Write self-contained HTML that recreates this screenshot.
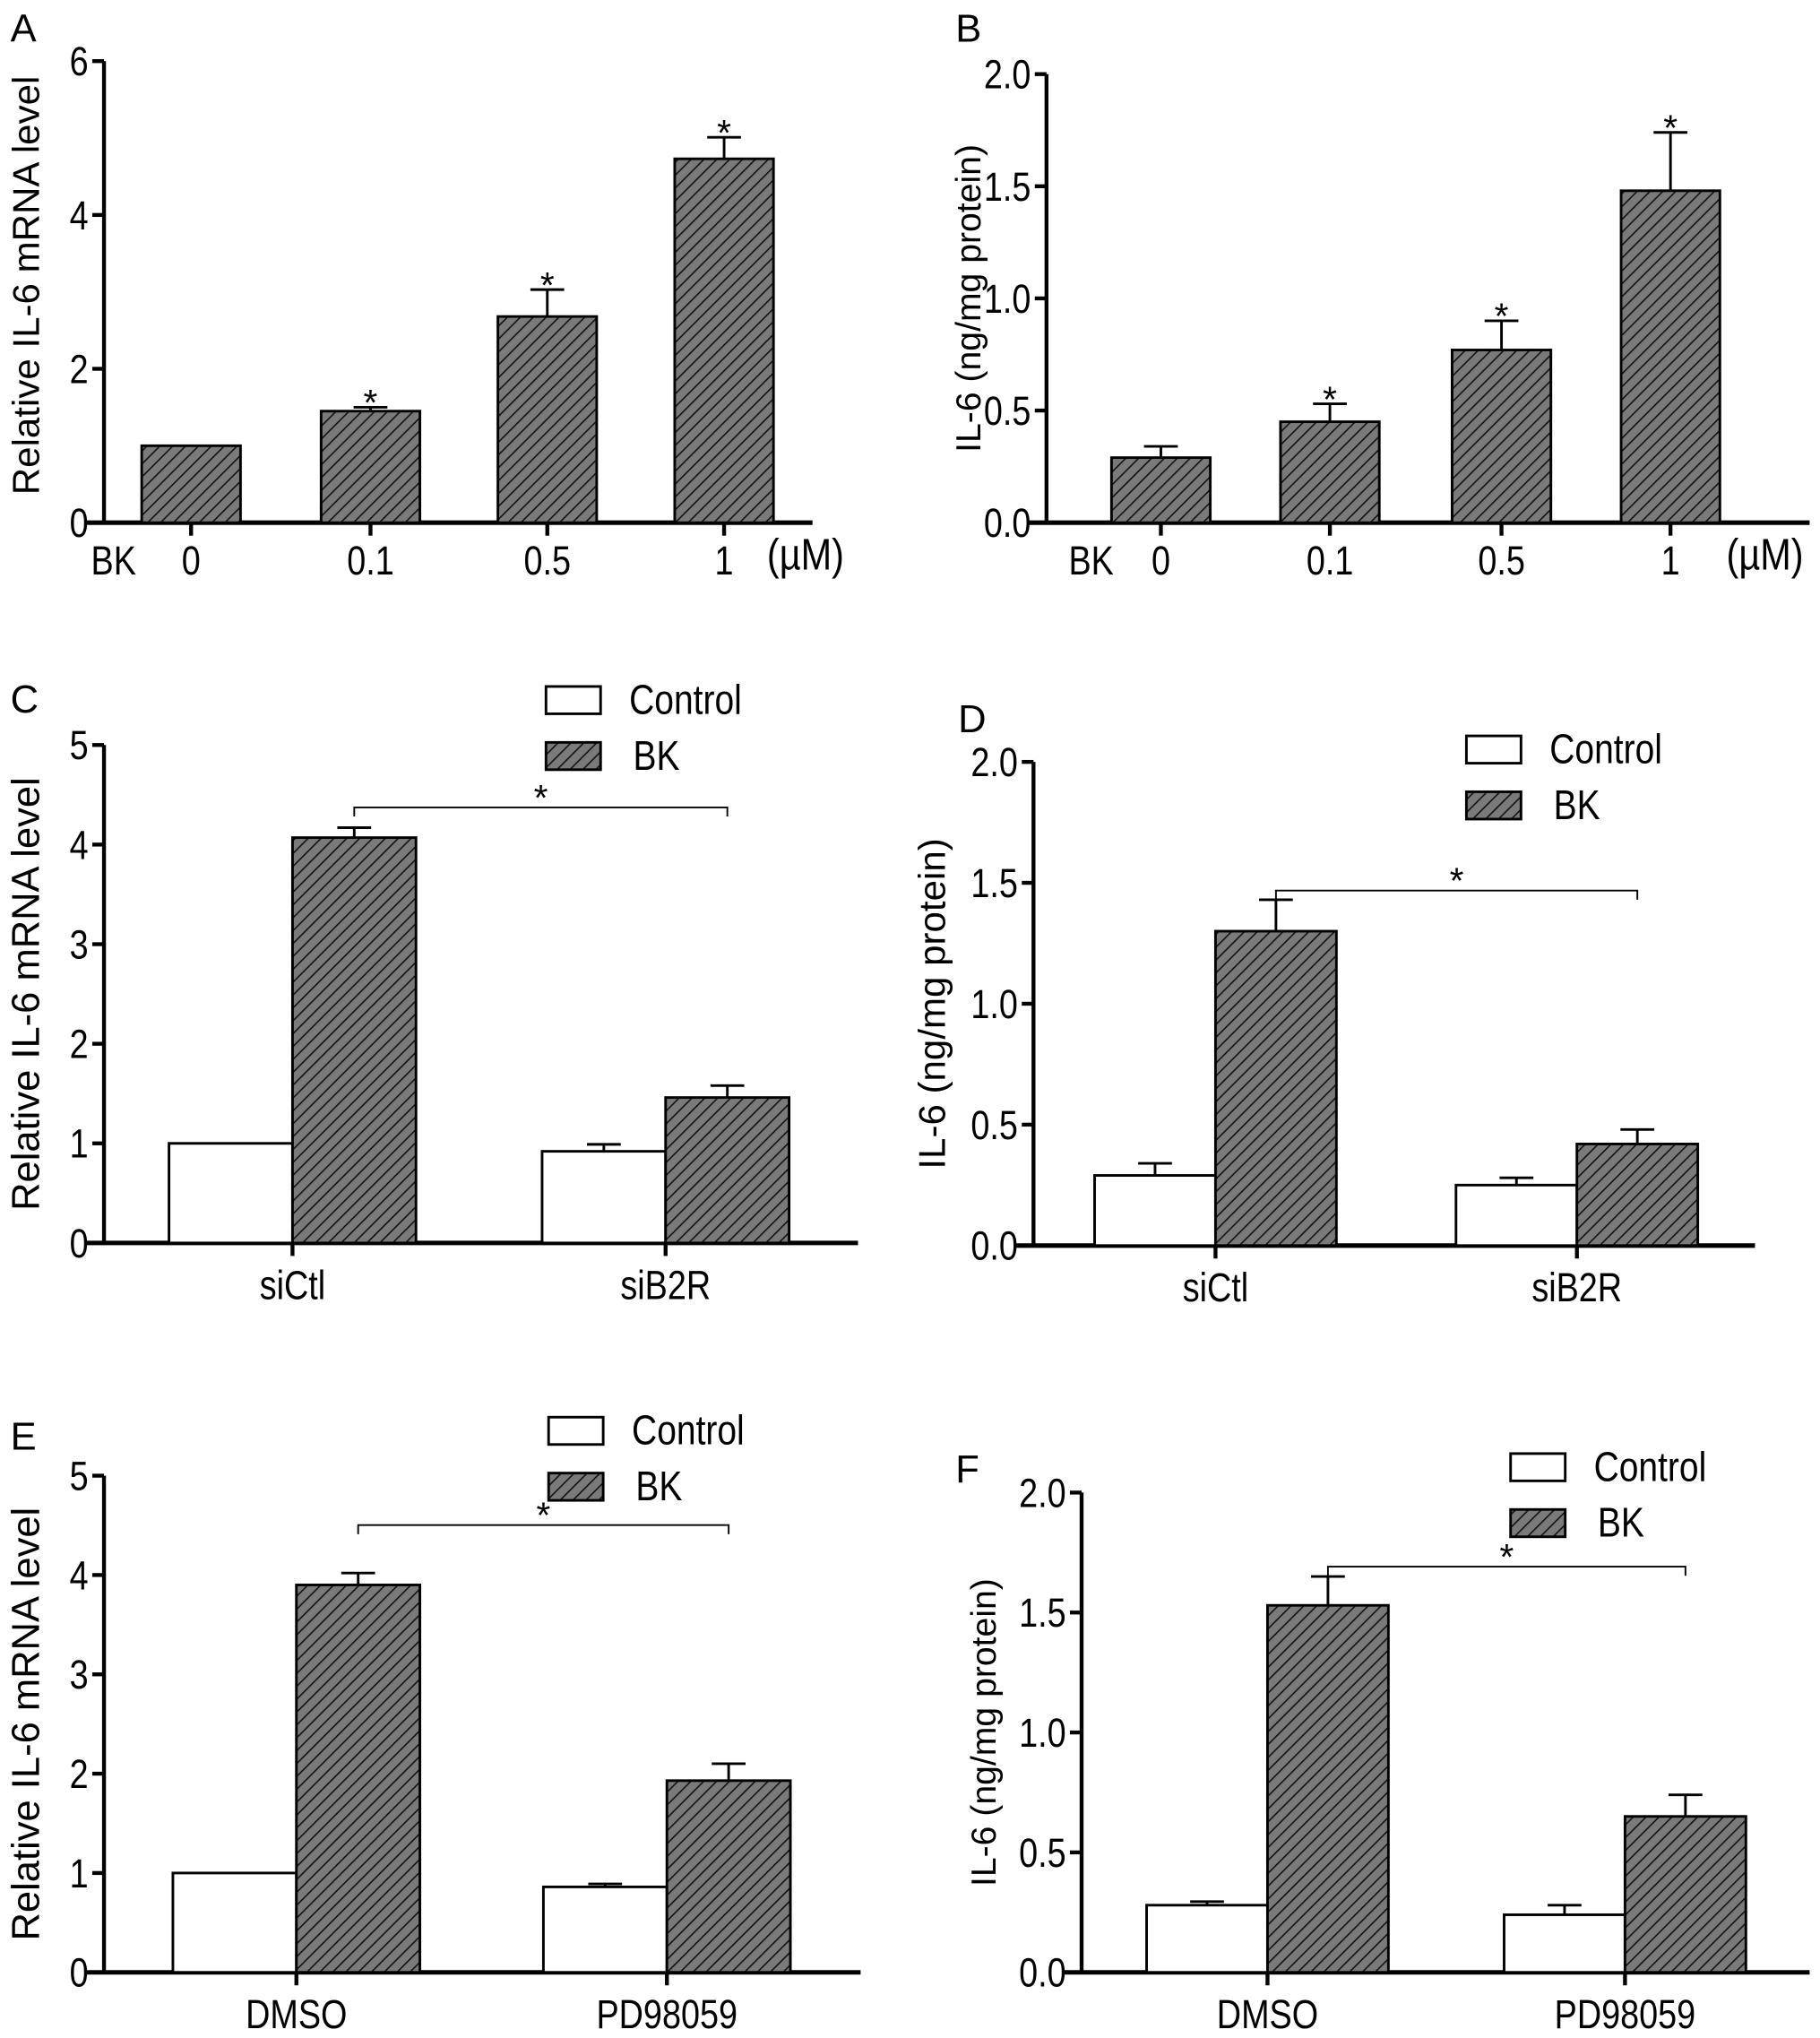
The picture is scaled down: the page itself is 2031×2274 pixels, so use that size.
<!DOCTYPE html>
<html><head><meta charset="utf-8"><style>
html,body{margin:0;padding:0;background:#fff}
svg{display:block}
text{font-family:"Liberation Sans",sans-serif;fill:#000}
</style></head><body>
<svg id="fig" xmlns="http://www.w3.org/2000/svg" width="2031" height="2274" viewBox="0 0 1400 1567.5">
<defs>
<pattern id="hatch" patternUnits="userSpaceOnUse" width="7" height="7" patternTransform="rotate(45)">
<rect width="7" height="7" fill="#7a7a7a"/><line x1="0" y1="0" x2="0" y2="7" stroke="#111" stroke-width="2.2"/>
</pattern>
</defs>
</svg>
<script>
// Panel A data
const catsA = ["0","0.1","0.5","1"];
const valsA = [1.0, 1.45, 2.68, 4.73];
const errA = [0, 0.05, 0.35, 0.28];
const ticksA = [0,2,4,6];
// Panel B data
const catsB = ["0","0.1","0.5","1"];
const valsB = [0.29, 0.45, 0.77, 1.48];
const errB = [0.05, 0.08, 0.13, 0.26];
const ticksB = ["0.0","0.5","1.0","1.5","2.0"];
// Panel C
const groupsC = ["siCtl","siB2R"];
const ctrlC = [1.0, 0.92]; const ctrlErrC = [0, 0.07];
const bkC = [4.07, 1.46]; const bkErrC = [0.1, 0.12];
const ticksC = [0,1,2,3,4,5];
// Panel D
const groupsD = ["siCtl","siB2R"];
const ctrlD = [0.29, 0.25]; const ctrlErrD = [0.05, 0.03];
const bkD = [1.30, 0.42]; const bkErrD = [0.13, 0.06];
const ticksD = ["0.0","0.5","1.0","1.5","2.0"];
// Panel E
const groupsE = ["DMSO","PD98059"];
const ctrlE = [1.0, 0.86]; const ctrlErrE = [0, 0.03];
const bkE = [3.9, 1.93]; const bkErrE = [0.12, 0.17];
const ticksE = [0,1,2,3,4,5];
// Panel F
const groupsF = ["DMSO","PD98059"];
const ctrlF = [0.28, 0.24]; const ctrlErrF = [0.015, 0.04];
const bkF = [1.53, 0.65]; const bkErrF = [0.12, 0.09];
const ticksF = ["0.0","0.5","1.0","1.5","2.0"];

const svg = document.getElementById('fig');
const NS = "http://www.w3.org/2000/svg";
function mk(tag, attrs, parent, txt){
  const e = document.createElementNS(NS, tag);
  for (const k in attrs) e.setAttribute(k, attrs[k]);
  if (txt !== undefined) e.textContent = txt;
  (parent||svg).appendChild(e);
  return e;
}
// narrow text: scaled horizontally
function ntext(parent, x, y, fs, anchor, txt){
  return mk('text', {x:0, y:0, 'font-size':fs, 'text-anchor':anchor, transform:`translate(${x},${y}) scale(0.84,1)`}, parent, txt);
}
function panel(p){
  const g = mk('g', {});
  
  
  const ys = v => p.y0 - (v / p.ymax) * (p.y0 - p.ytop);
  const L = mk('text', {x:p.lx, y:p.ly, 'font-size':30}, g, p.letter);
  
  
  const yt = mk('text', {x:0, y:0, 'font-size':p.ytfs, 'text-anchor':'middle', 'xml:space':'preserve',
    transform:`translate(${p.ytx},${(p.y0+p.ytop)/2+(p.ytoff||0)}) rotate(-90)`}, g, p.ytitle);
  
  
  const ya = mk('line', {x1:p.ax, y1:p.ytop, x2:p.ax, y2:p.y0, stroke:'#000', 'stroke-width':3}, g);
  
  
  const xa = mk('line', {x1:p.ax-15, y1:p.y0, x2:p.xend, y2:p.y0, stroke:'#000', 'stroke-width':3.5}, g);
  
  
  p.ticks.forEach(t => {
    const y = ys(parseFloat(t));
    const tl = mk('line', {x1:p.ax-9, y1:y, x2:p.ax, y2:y, stroke:'#000', 'stroke-width':3}, g);
    
    
    const tx = ntext(g, p.ax-12, y+11, 31, 'end', String(t));
    
    
  });
  function bar(x, w, v, e, fill, nm){
    const top = ys(v);
    const r = mk('rect', {x:x, y:top, width:w, height:p.y0-top, fill:fill, stroke:'#000', 'stroke-width':2}, g);
    
    
    if (e > 0){
      const cx = x + w/2, et = ys(v+e);
      const el = mk('path', {d:`M${cx} ${top}V${et}M${cx-13} ${et}H${cx+13}`, stroke:'#000', 'stroke-width':2, fill:'none'}, g);
      
      
    }
  }
  if (p.type === 'single'){
    p.cats.forEach((c,i) => {
      const cx = p.cx[i];
      bar(cx - p.bw/2, p.bw, p.vals[i], p.err[i], 'url(#hatch)', 'bar-'+c);
      const tk = mk('line', {x1:cx, y1:p.y0, x2:cx, y2:p.y0+10, stroke:'#000', 'stroke-width':3}, g);
      
      
      const tl = ntext(g, cx, p.y0+40, 31, 'middle', c);
      
      
      if (i > 0){
        const s = mk('text', {x:cx, y:ys(p.vals[i]+p.err[i])+6, 'font-size':28, 'text-anchor':'middle'}, g, '*');
        
        
      }
    });
    const bk = ntext(g, p.bkx, p.y0+40, 31, 'start', 'BK');
    
    
    const um = ntext(g, p.umx, p.y0+36, 34, 'start', '(µM)');
    
    
  } else {
    p.groups.forEach((c,i) => {
      const cx = p.cx[i];
      bar(cx - p.bw, p.bw, p.ctrl[i], p.ctrlErr[i], '#fff', 'bar-control-'+c);
      bar(cx, p.bw, p.bk[i], p.bkErr[i], 'url(#hatch)', 'bar-bk-'+c);
      const tk = mk('line', {x1:cx, y1:p.y0, x2:cx, y2:p.y0+10, stroke:'#000', 'stroke-width':3}, g);
      
      
      const tl = ntext(g, cx, p.y0+43, 31, 'middle', c);
      
      
    });
    const bx1 = p.cx[0] + p.bw/2, bx2 = p.cx[1] + p.bw/2;
    const br = mk('path', {d:`M${bx1} ${p.bry+7}V${p.bry}H${bx2}V${p.bry+7}`, stroke:'#000', 'stroke-width':1.3, fill:'none'}, g);
    
    
    const st = mk('text', {x:(bx1+bx2)/2, y:p.bry+2, 'font-size':28, 'text-anchor':'middle'}, g, '*');
    
    
    const lc = mk('rect', {x:p.legx, y:p.legy, width:42, height:21, fill:'#fff', stroke:'#000', 'stroke-width':2}, g);
    
    
    const lct = ntext(g, p.legx+64, p.legy+21, 32, 'start', 'Control');
    
    
    const lb = mk('rect', {x:p.legx, y:p.legy+43, width:42, height:21, fill:'url(#hatch)', stroke:'#000', 'stroke-width':2}, g);
    
    
    const lbt = ntext(g, p.legx+67, p.legy+64, 32, 'start', 'BK');
    
    
  }
}
panel({name:'panel-a', letter:'A', lx:8, ly:32, type:'single', ax:80, y0:402, ytop:47, ymax:6, xend:625,
  ticks:ticksA, cats:catsA, vals:valsA, err:errA, cx:[147,285,421,557], bw:76, bkx:70, umx:590,
  ytitle:'Relative  IL-6  mRNA level', ytx:30, ytfs:29, ytoff:-5});
panel({name:'panel-b', letter:'B', lx:735, ly:32, type:'single', ax:805, y0:402, ytop:57, ymax:2, xend:1392,
  ticks:ticksB, cats:catsB, vals:valsB, err:errB, cx:[893,1023,1155,1285], bw:76, bkx:822, umx:1328,
  ytitle:'IL-6  (ng/mg protein)', ytx:754, ytfs:27});
panel({name:'panel-c', letter:'C', lx:8, ly:548, type:'group', ax:80, y0:956, ytop:573, ymax:5, xend:660,
  ticks:ticksC, groups:groupsC, ctrl:ctrlC, ctrlErr:ctrlErrC, bk:bkC, bkErr:bkErrC, cx:[225,512], bw:95,
  bry:621, legx:420, legy:528, ytitle:'Relative  IL-6  mRNA level', ytx:30, ytfs:30});
panel({name:'panel-d', letter:'D', lx:737, ly:563, type:'group', ax:795, y0:958, ytop:586, ymax:2, xend:1350,
  ticks:ticksD, groups:groupsD, ctrl:ctrlD, ctrlErr:ctrlErrD, bk:bkD, bkErr:bkErrD, cx:[935,1213], bw:93,
  bry:685, legx:1128, legy:566, ytitle:'IL-6 (ng/mg protein)', ytx:727, ytfs:29});
panel({name:'panel-e', letter:'E', lx:8, ly:1115, type:'group', ax:80, y0:1517, ytop:1135, ymax:5, xend:662,
  ticks:ticksE, groups:groupsE, ctrl:ctrlE, ctrlErr:ctrlErrE, bk:bkE, bkErr:bkErrE, cx:[228,513], bw:95,
  bry:1173, legx:422, legy:1090, ytitle:'Relative IL-6  mRNA level', ytx:30, ytfs:30});
panel({name:'panel-f', letter:'F', lx:735, ly:1140, type:'group', ax:832, y0:1517, ytop:1148, ymax:2, xend:1392,
  ticks:ticksF, groups:groupsF, ctrl:ctrlF, ctrlErr:ctrlErrF, bk:bkF, bkErr:bkErrF, cx:[975,1250], bw:93,
  bry:1205, legx:1162, legy:1118, ytitle:'IL-6 (ng/mg protein)', ytx:766, ytfs:27});
</script>
</body></html>
